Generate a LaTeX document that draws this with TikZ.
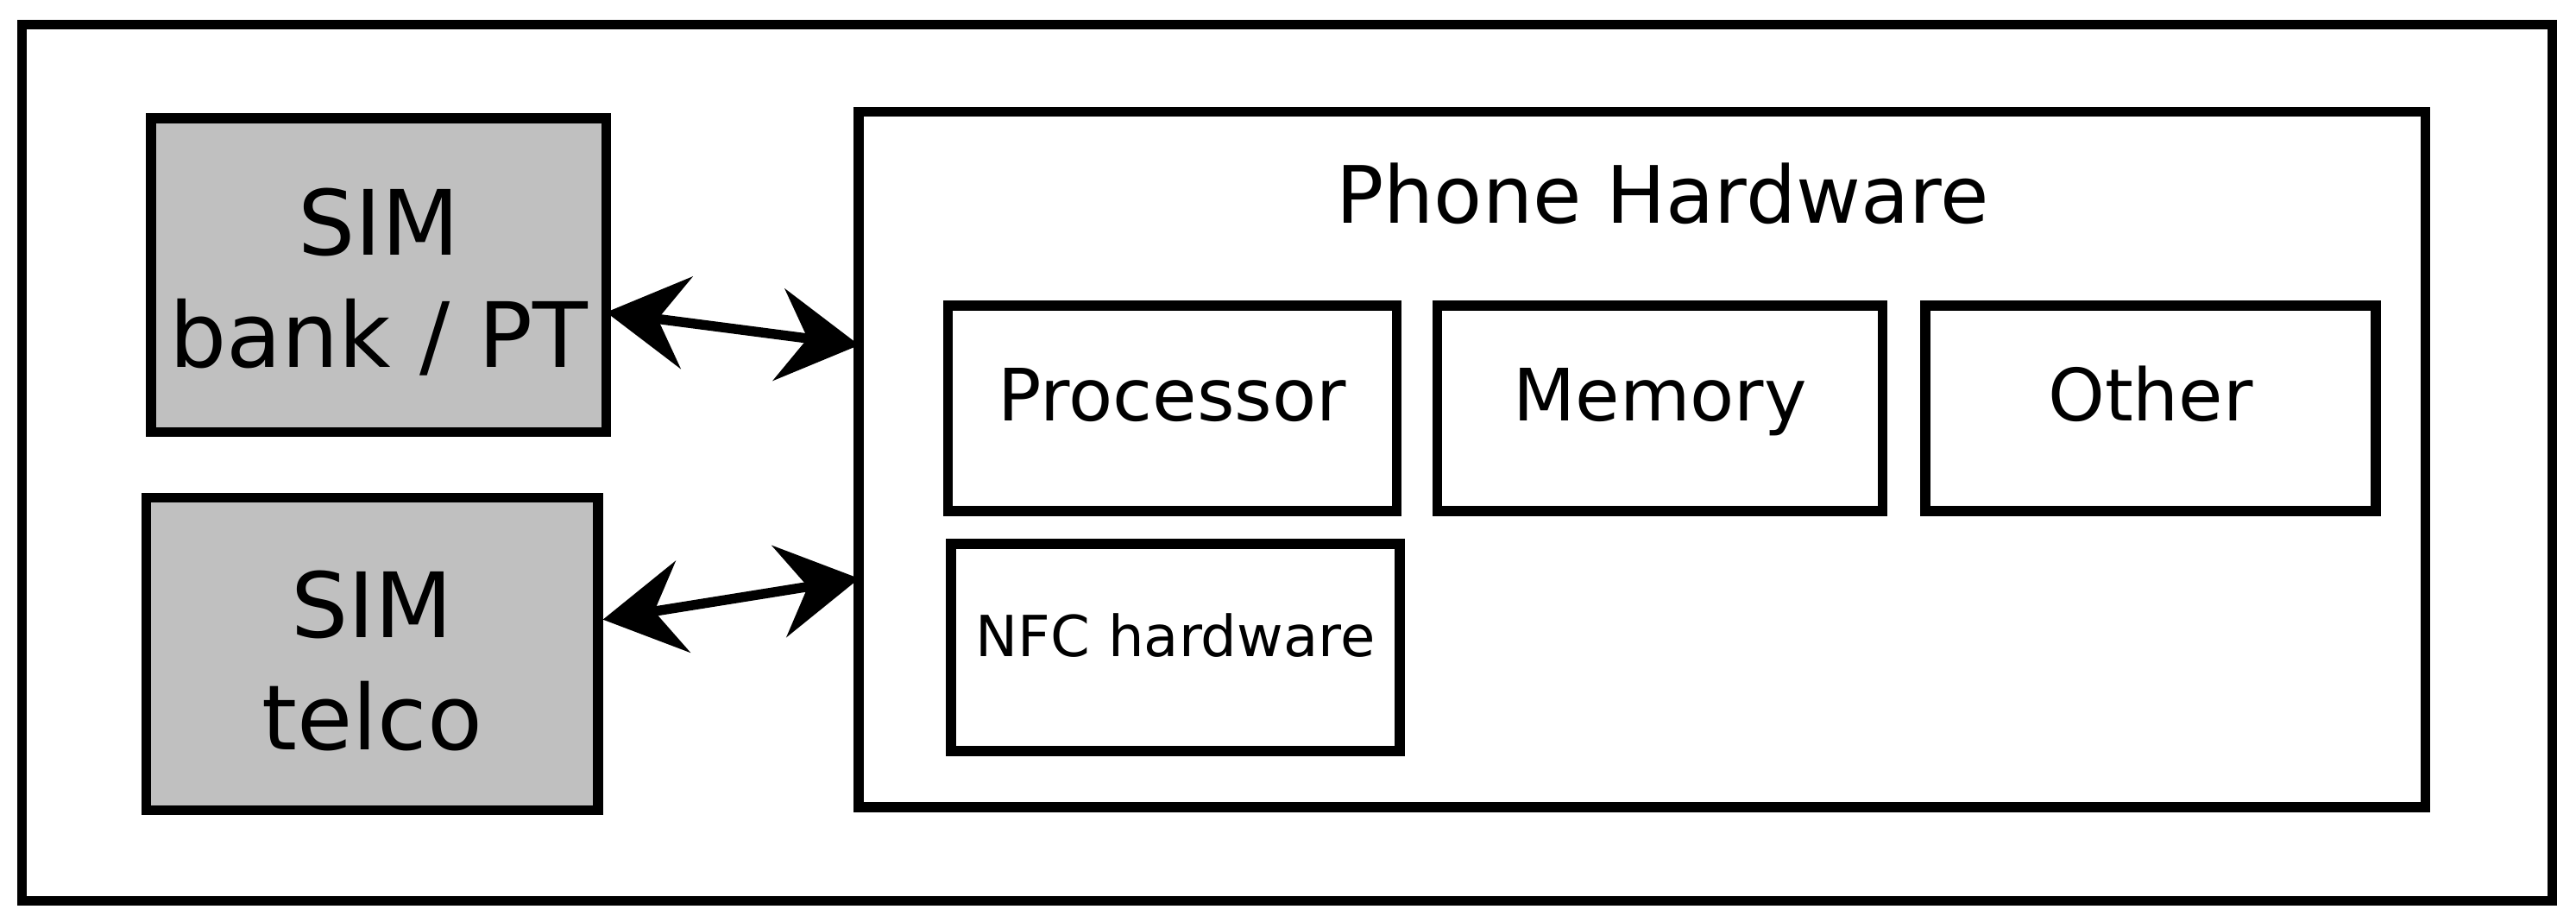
\documentclass[tikz,border=0pt]{standalone}
\usepackage{fontspec}
\setmainfont{DejaVu Sans}
\usetikzlibrary{arrows.meta}
\begin{document}
\begin{tikzpicture}[x=0.01cm,y=-0.01cm,
  box/.style={draw,line width=1.7pt,inner sep=0pt},
  sim/.style={box,fill={rgb,255:red,192;green,192;blue,192},align=center,font=\fontsize{15.6}{19.4}\selectfont},
  hw/.style={box,font=\fontsize{12.5}{15}\selectfont,text height=9pt,text depth=4.8pt},
  arr/.style={line width=1.7pt,{Stealth[length=14pt,width=16pt,inset=5pt]}-{Stealth[length=14pt,width=16pt,inset=5pt]}}]
\useasboundingbox (0,0) rectangle (1568,561);
\node[box,minimum width=15.39cm,minimum height=5.33cm] (outer) at (783.5,281.5) {};
\node[sim,minimum width=2.77cm,minimum height=1.91cm] (bank) at (230.5,167.5) {\rule{0pt}{14pt}SIM\\bank / PT};
\node[sim,minimum width=2.75cm,minimum height=1.90cm] (telco) at (226.5,398) {\rule{0pt}{14pt}SIM\\telco};
\node[box,minimum width=9.53cm,minimum height=4.23cm] (phone) at (999.5,279.5) {};
\node[font=\fontsize{13.7}{16}\selectfont] (title) at (1012,118) {Phone Hardware};
\node[hw,minimum width=2.73cm,minimum height=1.25cm] (proc) at (713.5,248.5) {Processor};
\node[hw,minimum width=2.71cm,minimum height=1.25cm] (mem) at (1010.5,248.5) {Memory};
\node[hw,minimum width=2.74cm,minimum height=1.25cm] (other) at (1309,248.5) {Other};
\node[hw,minimum width=2.73cm,minimum height=1.26cm,font=\fontsize{9.8}{12}\selectfont,text height=7pt,text depth=4pt] (nfc) at (715.5,394) {NFC hardware};
\coordinate (a1) at (369,190); \coordinate (b1) at (523,210);
\coordinate (a2) at (367,377); \coordinate (b2) at (523,352);
\draw[arr] (a1) -- (b1);
\draw[arr] (a2) -- (b2);
\end{tikzpicture}
\end{document}
